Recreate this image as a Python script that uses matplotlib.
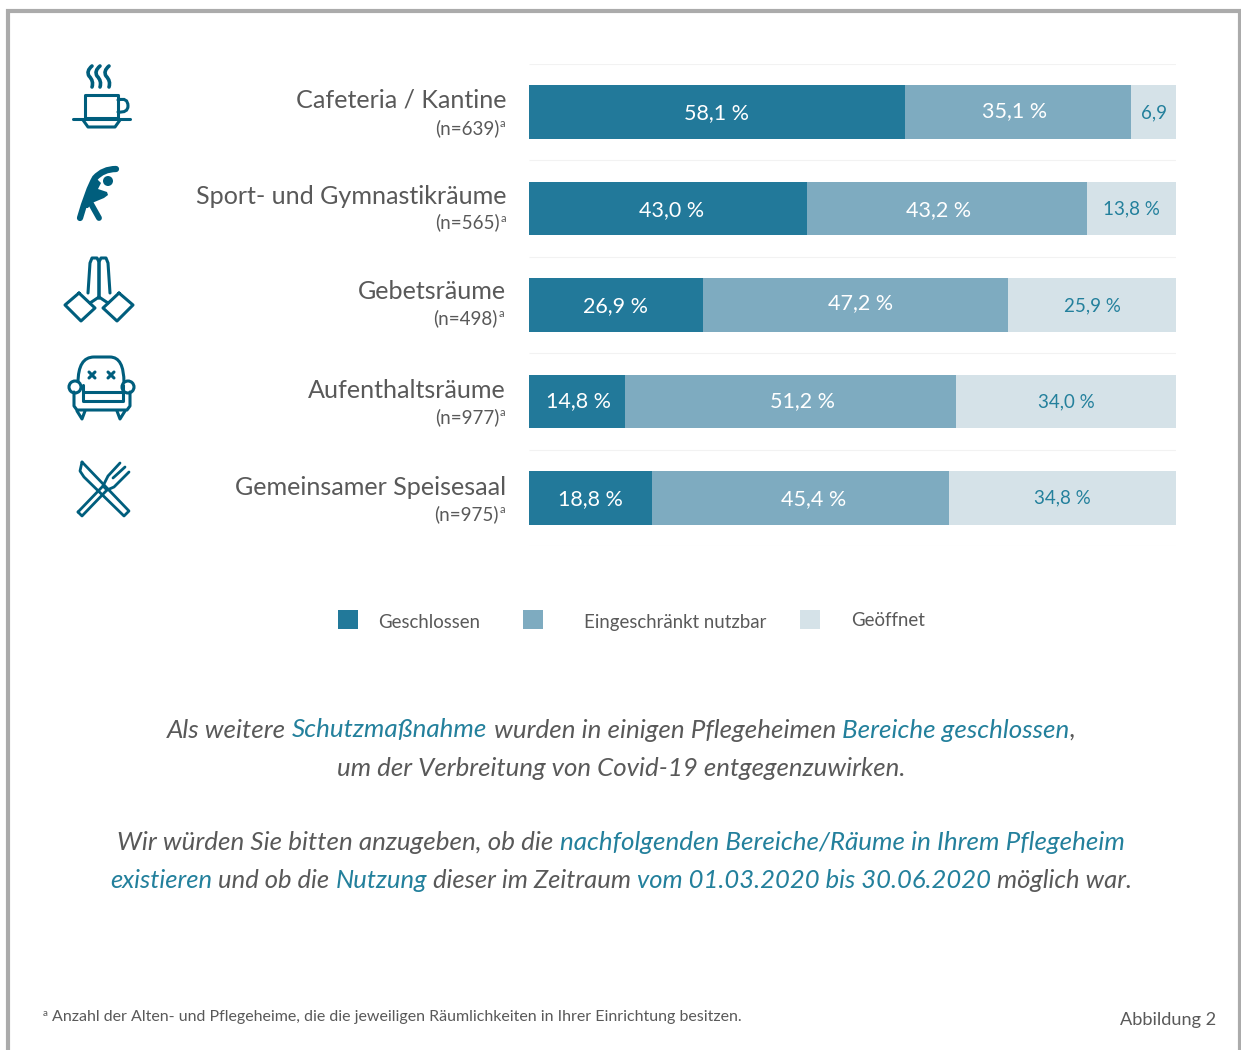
"""Closed areas in nursing homes: stacked bars with icons and question text."""

import matplotlib

matplotlib.use("Agg")
import matplotlib.pyplot as plt
from matplotlib.patches import Circle, PathPatch, Rectangle
from matplotlib.path import Path

FONT = "Lato"
plt.rcParams["font.family"] = [FONT, "DejaVu Sans"]

W, H = 1241, 1050

areas = ["Cafeteria / Kantine", "Sport- und Gymnastikräume", "Gebetsräume",
         "Aufenthaltsräume", "Gemeinsamer Speisesaal"]
sample_sizes = [639, 565, 498, 977, 975]
closed = [58.1, 43.0, 26.9, 14.8, 18.8]
limited = [35.1, 43.2, 47.2, 51.2, 45.4]
opened = [6.9, 13.8, 25.9, 34.0, 34.8]
open_labels = ["6,9", "13,8 %", "25,9 %", "34,0 %", "34,8 %"]
legend_labels = ["Geschlossen", "Eingeschränkt nutzbar", "Geöffnet"]

# hand placed label shifts of the original, in pixels
closed_nudge = [(0, 1), (3, 0), (-1, 1), (2, 2), (0, 1)]
limited_nudge = [(-3, 3), (-8, 0), (5, 4), (12, 2), (13, 1)]
open_nudge = [(0, 1), (0, 1), (0, 1), (0, 1), (0, 2)]
name_nudge = [(0, 0), (1, -1), (0, -2), (0, 1), (0, 1)]
n_nudge = [(0, 0), (1, -2), (-1, -3), (0, 0), (0, 0)]

DARK = "#22799A"
MID = "#7EABC0"
LIGHT = "#D5E2E8"
ICON = "#005E7D"
TEAL = "#23809C"
GREY = "#595959"
FRAME = "#ABABAB"

fig = plt.figure(figsize=(W / 100, H / 100), dpi=100, facecolor="white")

# page overlay in pixel coordinates
page = fig.add_axes([0, 0, 1, 1])
page.set_xlim(0, W)
page.set_ylim(H, 0)
page.axis("off")

# bars
ax = fig.add_axes([529 / W, 1 - 546.25 / H, 647 / W, 482.5 / H])
ax.set_xlim(0, 100)
ax.set_ylim(4.5, -0.5)
ax.axis("off")
rows = range(len(areas))
totals = [a + b + c for a, b, c in zip(closed, limited, opened)]
left = [0.0] * len(areas)
series = [(closed, DARK, closed_nudge), (limited, MID, limited_nudge), (opened, LIGHT, open_nudge)]
for values, colour, nudge in series:
    shares = [v / t * 100 for v, t in zip(values, totals)]
    ax.barh(rows, shares, left=left, height=0.555, color=colour, linewidth=0)
    for i, (s, v, l) in enumerate(zip(shares, values, left)):
        if values is opened:
            txt, col, fs = open_labels[i], TEAL, 13.5
        else:
            txt, col, fs = f"{v:.1f} %".replace(".", ","), "white", 15.5
        ax.annotate(txt, (l + s / 2, i), xytext=nudge[i], textcoords="offset pixels", color=col,
                    fontsize=fs, ha="center", va="center_baseline")
    left = [l + s for l, s in zip(left, shares)]
ax.hlines([i - 0.5 for i in range(6)], 0, 100, color="#F2F2F2", lw=0.8)

# row labels
for i, (name, n) in enumerate(zip(areas, sample_sizes)):
    y = 112 + 96.5 * i
    page.text(506 + name_nudge[i][0], y - 4 + name_nudge[i][1], name, color=GREY, fontsize=18.1,
              ha="right", va="baseline")
    page.text(499 + n_nudge[i][0], y + 22 + n_nudge[i][1], f"(n={n})", color=GREY, fontsize=13.5,
              ha="right", va="baseline")
    page.text(499.5 + n_nudge[i][0], y + 15 + n_nudge[i][1], "a", color=GREY, fontsize=8, ha="left", va="baseline")

# legend
for x, tx, ty, label, colour in zip([338, 523, 800], [378, 584, 851], [621, 621, 619], legend_labels,
                                    [DARK, MID, LIGHT]):
    page.add_patch(Rectangle((x, 610), 19.5, 19, color=colour, lw=0))
    page.text(tx, ty, label, color=GREY, fontsize=13.4, ha="left", va="center_baseline")


def rich_line(y, parts, cx=621, size=18.7):
    # pieces of one centred line, each with its own colour
    rend = fig.canvas.get_renderer()
    items = [page.text(0, y, t, color=c, fontsize=size, style="italic", va="baseline") for t, c in parts]
    widths = []
    for t, c in parts:
        probe = page.text(0, y, t.replace(" ", "\u00a0"), fontsize=size, style="italic")
        widths.append(probe.get_window_extent(rend).width)
        probe.remove()
    x = cx - sum(widths) / 2
    for item, w in zip(items, widths):
        item.set_x(x)
        x += w


rich_line(737.5, [("Als weitere ", GREY), ("Schutzmaßnahme", TEAL), (" wurden in einigen Pflegeheimen ", GREY),
                  ("Bereiche geschlossen", TEAL), (",", GREY)])
rich_line(775.5, [("um der Verbreitung von Covid-19 entgegenzuwirken.", GREY)], size=18.6)
rich_line(849.5, [("Wir würden Sie bitten anzugeben, ob die ", GREY),
                  ("nachfolgenden Bereiche/Räume in Ihrem Pflegeheim", TEAL)])
rich_line(887.5, [("existieren", TEAL), (" und ob die ", GREY), ("Nutzung", TEAL), (" dieser im Zeitraum ", GREY),
                  ("vom 01.03.2020 bis 30.06.2020", TEAL), (" möglich war.", GREY)], size=18.45)

# footnote
page.text(43, 1016, "a", color=GREY, fontsize=7, va="baseline")
page.text(52, 1021, "Anzahl der Alten- und Pflegeheime, die die jeweiligen Räumlichkeiten in Ihrer Einrichtung besitzen.",
          color=GREY, fontsize=11.57, va="baseline")
page.text(1216.5, 1025.5, "Abbildung 2", color=GREY, fontsize=13.1, ha="right", va="baseline")

# frame (open at the bottom)
page.plot([8, 8, 1240, 1240], [1050, 11, 11, 1050], color=FRAME, lw=3, solid_joinstyle="miter")


def stroke(xs, ys, lw=2.2):
    page.plot(xs, ys, color=ICON, lw=lw, solid_capstyle="round", solid_joinstyle="round")


def curve(verts, lw=2.2):
    # verts: start point, then (control, end) pairs
    codes = [Path.MOVETO] + [Path.CURVE3] * (len(verts) - 1)
    page.add_patch(PathPatch(Path(verts, codes), fc="none", ec=ICON, lw=lw, capstyle="round"))


# coffee cup
for x in (92, 100, 109):
    curve([(x, 66), (x - 6, 71), (x - 3, 76), (x + 2, 81), (x, 87)], lw=2.6)
stroke([85, 85, 118, 118, 85], [118, 95, 95, 118, 118])
curve([(118, 100), (128, 97), (128, 106), (128, 113), (118, 112)])
stroke([73, 130], [119, 119])
stroke([83, 88, 115, 120], [120, 127, 127, 120])

# stretching figure
curve([(116, 169), (103, 169), (95, 178), (88, 190), (80, 218)], lw=4.5)
page.add_patch(Circle((108, 181), 5, color=ICON, lw=0))
body = [(94, 176), (101, 183), (98, 189), (107, 192), (108, 195), (104, 198), (92, 203), (88, 208), (82, 208), (88, 190)]
page.fill([p[0] for p in body], [p[1] for p in body], color=ICON, lw=0)
stroke([90, 99], [202, 218], lw=4.2)

# praying hands
for sgn in (-1, 1):
    cx = 99
    xs = [cx + sgn * d for d in (20, 4, 18, 34, 20)]
    stroke(xs, [293, 308, 321, 305, 293])
    stroke([cx + sgn * 11, cx + sgn * 9, cx + sgn * 7, cx + sgn * 2, cx, cx],
           [293, 263, 258, 258, 262, 298])
    stroke([cx + sgn * 9, cx], [303, 297])

# armchair
curve([(78, 383), (78, 357), (94, 357), (101, 357), (110, 357), (124, 357), (124, 383)])
for cx in (75, 128):
    page.add_patch(Circle((cx, 387), 6, fc="white", ec=ICON, lw=2.2))
stroke([83, 83, 123, 123], [385, 401, 401, 385])
stroke([83, 123], [392, 392])
stroke([74, 74, 77, 127, 130, 130], [392, 406, 410, 410, 406, 392])
stroke([77, 82, 85], [411, 419, 411])
stroke([117, 120, 125], [411, 419, 411])
for cx in (92, 111):
    stroke([cx - 3, cx + 3], [372, 378])
    stroke([cx - 3, cx + 3], [378, 372])

# knife and fork
stroke([82, 80, 84, 124, 129, 82], [462, 471, 477, 516, 511, 462], lw=2)
stroke([78, 82, 107, 103, 78], [512, 516, 490, 486, 512], lw=2)
stroke([103, 108, 120], [486, 476, 463], lw=2)
stroke([113, 125], [478, 467], lw=2)
stroke([107, 114, 129], [490, 487, 472], lw=2)

fig.savefig("out.png", dpi=100)
plt.close(fig)
